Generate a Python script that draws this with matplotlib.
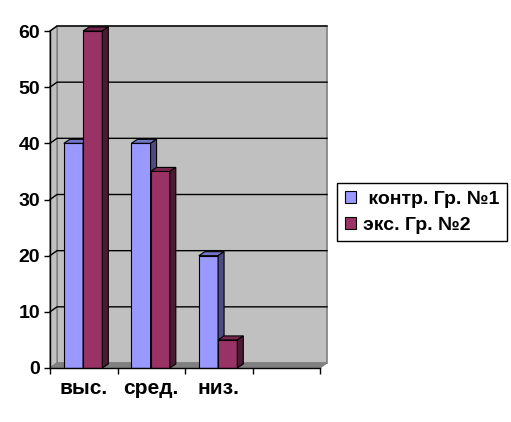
import matplotlib
matplotlib.use('Agg')
import matplotlib.pyplot as plt
from matplotlib.patches import Polygon, Patch

categories = ['выс.', 'сред.', 'низ.', '']
series_names = [' контр. Гр. №1', 'экс. Гр. №2']
contr = [40, 40, 20]
eks = [60, 35, 5]
yticks = [0, 10, 20, 30, 40, 50, 60]

# colours: front, top, side
blue = ('#9999FF', '#7474C8', '#4C4C80')
red = ('#993366', '#772850', '#4D1A33')

plt.rcParams['font.family'] = ['Liberation Sans', 'DejaVu Sans']
plt.rcParams['font.weight'] = 'bold'

fig = plt.figure(figsize=(5.11, 4.22), dpi=100)
ax = fig.add_axes([50 / 511, 1 - 368 / 422, 270 / 511, 337 / 422])
ax.set_xlim(0, 4)
ax.set_ylim(0, 60)
ax.set_facecolor('none')

# depth of the "3d" box in data units
dx, dy = 7 / 67.5, 5 * 60 / 337.0
bdx, bdy = 6 / 67.5, 4 * 60 / 337.0

def poly(pts, fc, ec, lw=0.8, z=1):
    ax.add_patch(Polygon(pts, closed=True, facecolor=fc, edgecolor=ec,
                         linewidth=lw, clip_on=False, zorder=z))

# back wall, side wall, floor
poly([(dx, dy), (4 + dx, dy), (4 + dx, 60 + dy), (dx, 60 + dy)], '#C0C0C0', '#808080', 1.2, 0)
poly([(0, 0), (dx, dy), (dx, 60 + dy), (0, 60)], '#C0C0C0', '#808080', 1.0, 0)
poly([(0, 0), (4, 0), (4 + dx, dy), (dx, dy)], '#808080', '#808080', 0.8, 0.5)

for v in yticks[1:]:
    ax.plot([0, dx, 4 + dx], [v, v + dy, v + dy], color='black', lw=1.0,
            clip_on=False, zorder=0.8)

width = 0.285
offsets = [0.205, 0.205 + width]
for i in range(len(contr)):
    for vals, col, off in [(contr, blue, offsets[0]), (eks, red, offsets[1])]:
        x0 = i + off
        x1 = x0 + width
        h = vals[i]
        ax.bar(x0, h, width=width, align='edge', color=col[0],
               edgecolor='black', linewidth=0.8, zorder=2 + i)
        poly([(x0, h), (x1, h), (x1 + bdx, h + bdy), (x0 + bdx, h + bdy)],
             col[1], 'black', 0.8, 2 + i)
        poly([(x1, 0), (x1 + bdx, bdy), (x1 + bdx, h + bdy), (x1, h)],
             col[2], 'black', 0.8, 2 + i)

for s in ['top', 'right']:
    ax.spines[s].set_visible(False)
for s in ['left', 'bottom']:
    ax.spines[s].set_linewidth(1.0)
    ax.spines[s].set_zorder(10)

ax.set_yticks(yticks)
ax.set_yticklabels([str(v) for v in yticks], fontsize=14, fontweight='bold')
ax.tick_params(axis='y', direction='out', length=4, width=1, pad=3)

ax.set_xticks([0, 1, 2, 3, 4])
ax.set_xticklabels([])
ax.set_xticks([0.5, 1.5, 2.5, 3.5], minor=True)
ax.set_xticklabels(categories, minor=True, fontsize=15, fontweight='bold')
ax.tick_params(axis='x', which='major', direction='out', length=4, width=1)
ax.tick_params(axis='x', which='minor', length=0, pad=8)

handles = [Patch(facecolor=blue[0], edgecolor='black', linewidth=0.8),
           Patch(facecolor=red[0], edgecolor='black', linewidth=0.8)]
leg = fig.legend(handles, series_names, loc='upper left',
                 bbox_to_anchor=(337 / 511, 1 - 183 / 422), borderaxespad=0,
                 fancybox=False, edgecolor='black', framealpha=1,
                 prop={'size': 14, 'weight': 'bold'},
                 handlelength=0.6, handleheight=0.6, handletextpad=0.35,
                 borderpad=0.4, labelspacing=0.45)
leg.get_frame().set_linewidth(1.0)

plt.savefig('out.png', dpi=100)
